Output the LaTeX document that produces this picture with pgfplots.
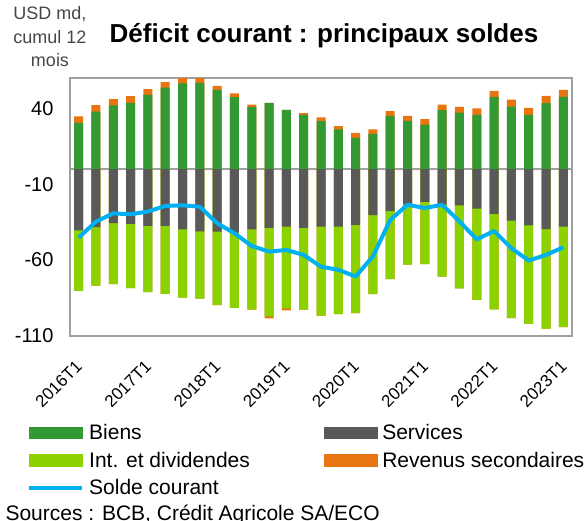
\documentclass[border=0pt]{standalone}
\usepackage{fontspec}
\setmainfont{Liberation Sans}
\usepackage{pgfplots}
\usepackage{pgfplotstable}
\pgfplotsset{compat=1.18}
\definecolor{cBiens}{RGB}{51,153,51}
\definecolor{cServ}{RGB}{89,89,89}
\definecolor{cInt}{RGB}{140,210,0}
\definecolor{cRev}{RGB}{232,117,15}
\definecolor{cSolde}{RGB}{0,176,240}
\definecolor{frameGray}{RGB}{160,160,160}
\definecolor{unitGray}{RGB}{70,70,70}

\pgfplotstableread{
idx biens serv int rev solde
0 30.5 -40.4 -39.9 4.2 -45.2
1 37.9 -38.2 -38.6 4.2 -34.6
2 41.9 -35.7 -40.1 4.2 -29.2
3 43.6 -36.2 -42.3 4.4 -29.8
4 48.9 -37.5 -43.6 3.7 -28.0
5 53.7 -37.5 -44.7 3.5 -24.3
6 56.4 -39.7 -45.0 3.7 -23.9
7 56.8 -41.0 -44.3 3.3 -24.8
8 52.2 -41.2 -48.5 2.6 -35.7
9 47.4 -41.9 -49.6 2.4 -42.3
10 41.0 -39.7 -52.9 1.5 -50.7
11 43.6 -38.8 -58.3 -1.3 -54.4
12 39.0 -37.9 -53.9 -1.3 -53.3
13 35.7 -38.8 -53.9 1.1 -56.6
14 31.6 -37.9 -58.6 2.4 -64.3
15 26.1 -37.9 -57.7 2.2 -66.4
16 20.6 -36.8 -58.1 3.3 -70.8
17 23.2 -30.4 -52.0 2.9 -57.5
18 35.1 -27.7 -44.9 3.1 -33.5
19 31.8 -23.4 -39.6 3.3 -23.5
20 29.2 -21.6 -41.1 3.7 -25.7
21 38.8 -23.5 -47.3 3.7 -23.5
22 37.1 -24.0 -54.7 3.9 -34.5
23 35.7 -26.0 -60.2 4.2 -46.3
24 47.6 -29.6 -62.9 3.9 -40.8
25 41.2 -34.0 -64.3 4.6 -52.2
26 35.7 -37.1 -64.7 4.6 -60.3
27 43.4 -39.5 -65.6 4.8 -56.6
28 47.6 -37.9 -66.2 4.6 -51.5
}\data

\begin{document}
\begin{tikzpicture}
\path[use as bounding box] (0pt,0pt) rectangle (588pt,521pt);
\node[anchor=base, font=\bfseries\fontsize{26}{30}\selectfont] at (324pt,478pt) {Déficit courant : principaux soldes};
\node[anchor=base, text=unitGray, font=\fontsize{18}{22}\selectfont] at (50pt,501pt) {USD md,};
\node[anchor=base, text=unitGray, font=\fontsize{18}{22}\selectfont] at (50pt,477pt) {cumul 12};
\node[anchor=base, text=unitGray, font=\fontsize{18}{22}\selectfont] at (50pt,454pt) {mois};
\node[anchor=base west, font=\fontsize{21}{25}\selectfont] at (2pt,0.5pt) {Sources : BCB, Crédit Agricole SA/ECO};
\begin{axis}[
  at={(70pt,185pt)}, anchor=south west,
  scale only axis, width=502pt, height=258pt,
  ybar, bar width=9pt, bar shift=0pt,
  xmin=-0.5, xmax=28.5, ymin=-110, ymax=60,
  xtick={0,4,...,28},
  xticklabels={2016T1,2017T1,2018T1,2019T1,2020T1,2021T1,2022T1,2023T1},
  ytick={-110,-60,-10,40},
  major tick length=0pt,
  axis line style={draw=frameGray, line width=2pt},
  /pgf/number format/assume math mode=true,
  yticklabel style={font=\fontsize{20}{24}\selectfont, xshift=-13pt},
  xticklabel style={font=\fontsize{17}{20}\selectfont, xshift=-4pt, yshift=-23pt, rotate=45, anchor=north east, inner sep=0pt},
  extra y ticks={0}, extra y tick labels={},
  extra y tick style={grid=major, major grid style={draw=frameGray, line width=2.5pt}},
  legend columns=2,
  legend cell align=left,
  legend style={draw=none, fill=none, at={(-0.0857,-0.341)}, anchor=north west,
    font=\fontsize{21}{25}\selectfont, inner sep=0pt, row sep=11pt,
    nodes={inner sep=0pt},
    /tikz/every odd column/.style={column sep=5pt},
    /tikz/every even column/.style={column sep=74pt}},
]
\addlegendimage{legend image code/.code={\fill[cBiens] (0pt,-5.8pt) rectangle (53pt,5.8pt);}}
\addlegendentry{Biens}
\addlegendimage{legend image code/.code={\fill[cServ] (0pt,-5.8pt) rectangle (53pt,5.8pt);}}
\addlegendentry{Services}
\addlegendimage{legend image code/.code={\fill[cInt] (0pt,-5.8pt) rectangle (53pt,5.8pt);}}
\addlegendentry{Int. et dividendes}
\addlegendimage{legend image code/.code={\fill[cRev] (0pt,-5.8pt) rectangle (53pt,5.8pt);}}
\addlegendentry{Revenus secondaires}
\addlegendimage{legend image code/.code={\draw[cSolde, line width=4pt] (0pt,0pt) -- (53pt,0pt);}}
\addlegendentry{Solde courant}
% positive stack: Biens + Revenus secondaires (>0)
\addplot[fill=cRev, draw=none, forget plot] table[x=idx, y expr={\thisrow{biens}+max(\thisrow{rev},0)}]{\data};
\addplot[fill=cBiens, draw=none, forget plot] table[x=idx, y=biens]{\data};
% negative stack: Services, Int. et dividendes, Revenus secondaires (<0)
\addplot[fill=cRev, draw=none, forget plot] table[x=idx, y expr={\thisrow{serv}+\thisrow{int}+min(\thisrow{rev},0)}]{\data};
\addplot[fill=cInt, draw=none, forget plot] table[x=idx, y expr={\thisrow{serv}+\thisrow{int}}]{\data};
\addplot[fill=cServ, draw=none, forget plot] table[x=idx, y=serv]{\data};
% solde courant
\addplot[sharp plot, no markers, color=cSolde, line width=4pt, line join=round, forget plot] table[x=idx, y=solde]{\data};
\end{axis}
\end{tikzpicture}
\end{document}
